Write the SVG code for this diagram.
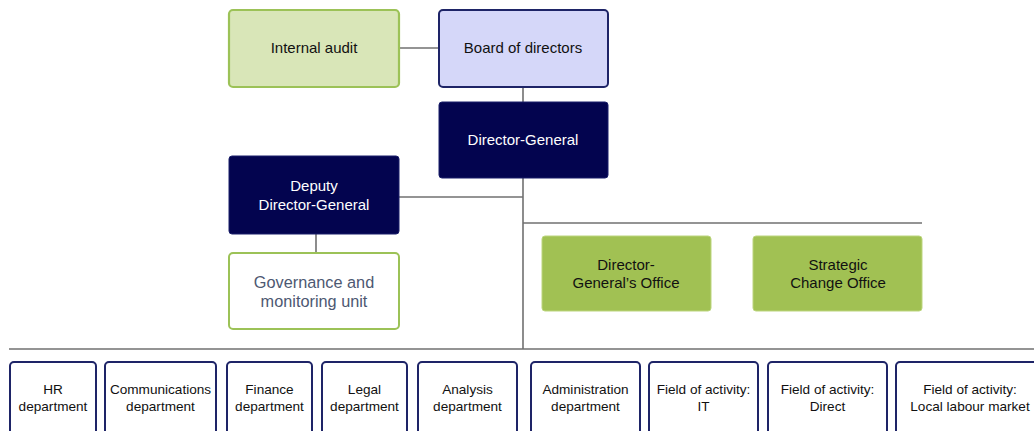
<svg xmlns="http://www.w3.org/2000/svg" width="1034" height="431" viewBox="0 0 1034 431">
  <style>
    text { font-family: "Liberation Sans", Arial, sans-serif; text-anchor: middle; }
    .t14 { font-size: 15px; fill: #111; }
    .t13 { font-size: 13.6px; fill: #111; }
    .w { fill: #ffffff; }
    .gov { font-size: 16.3px; fill: #4d5872; }
    .conn { stroke: #707070; stroke-width: 1.6; fill: none; }
    .navy { fill: #03044f; stroke: #1a1f6a; stroke-width: 1; }
    .board { fill: #d5d7f9; stroke: #1e2467; stroke-width: 2; }
    .audit { fill: #d9e6b8; stroke: #9cc257; stroke-width: 2.2; }
    .white { fill: #ffffff; stroke: #9cc257; stroke-width: 2; }
    .green { fill: #a1c153; stroke: #bcd57f; stroke-width: 1; }
    .dept { fill: #ffffff; stroke: #1e2467; stroke-width: 2; }
  </style>

  <!-- connectors -->
  <g id="connectors">
    <line class="conn" x1="399" y1="48" x2="439" y2="48"/>
    <line class="conn" x1="523" y1="87" x2="523" y2="102"/>
    <line class="conn" x1="523" y1="178" x2="523" y2="349"/>
    <line class="conn" x1="399" y1="197" x2="523" y2="197"/>
    <line class="conn" x1="316" y1="234" x2="316" y2="253"/>
    <line class="conn" x1="523" y1="223" x2="922" y2="223"/>
    <line class="conn" x1="9" y1="349" x2="1034" y2="349"/>
  </g>

  <g id="internal-audit">
    <rect class="audit" x="229" y="10" width="170" height="77" rx="4"/>
    <text class="t14" x="314" y="53">Internal audit</text>
  </g>

  <g id="board">
    <rect class="board" x="439" y="10" width="169" height="77" rx="4"/>
    <text class="t14" x="523" y="53">Board of directors</text>
  </g>

  <g id="director-general">
    <rect class="navy" x="439" y="102" width="169" height="76" rx="3"/>
    <text class="t14 w" x="523" y="145">Director-General</text>
  </g>

  <g id="deputy">
    <rect class="navy" x="229" y="156" width="170" height="78" rx="3"/>
    <text class="t14 w" x="314" y="191">Deputy</text>
    <text class="t14 w" x="314" y="210">Director-General</text>
  </g>

  <g id="governance">
    <rect class="white" x="229" y="253" width="170" height="76" rx="4"/>
    <text class="gov" x="314" y="288">Governance and</text>
    <text class="gov" x="314" y="307">monitoring unit</text>
  </g>

  <g id="dg-office">
    <rect class="green" x="542" y="236" width="169" height="75" rx="3"/>
    <text class="t14" x="626" y="270">Director-</text>
    <text class="t14" x="626" y="288">General’s Office</text>
  </g>

  <g id="strategic-change">
    <rect class="green" x="753" y="236" width="169" height="75" rx="3"/>
    <text class="t14" x="838" y="270">Strategic</text>
    <text class="t14" x="838" y="288">Change Office</text>
  </g>

  <g id="hr">
    <rect class="dept" x="10" y="362" width="86" height="80" rx="4"/>
    <text class="t13" x="53" y="394">HR</text>
    <text class="t13" x="53" y="411">department</text>
  </g>
  <g id="communications">
    <rect class="dept" x="105" y="362" width="111" height="80" rx="4"/>
    <text class="t13" x="160.5" y="394">Communications</text>
    <text class="t13" x="160.5" y="411">department</text>
  </g>
  <g id="finance">
    <rect class="dept" x="227" y="362" width="85" height="80" rx="4"/>
    <text class="t13" x="269.5" y="394">Finance</text>
    <text class="t13" x="269.5" y="411">department</text>
  </g>
  <g id="legal">
    <rect class="dept" x="322" y="362" width="85" height="80" rx="4"/>
    <text class="t13" x="364.5" y="394">Legal</text>
    <text class="t13" x="364.5" y="411">department</text>
  </g>
  <g id="analysis">
    <rect class="dept" x="418" y="362" width="99" height="80" rx="4"/>
    <text class="t13" x="467.5" y="394">Analysis</text>
    <text class="t13" x="467.5" y="411">department</text>
  </g>
  <g id="administration">
    <rect class="dept" x="531" y="362" width="109" height="80" rx="4"/>
    <text class="t13" x="585.5" y="394">Administration</text>
    <text class="t13" x="585.5" y="411">department</text>
  </g>
  <g id="field-it">
    <rect class="dept" x="649" y="362" width="109" height="80" rx="4"/>
    <text class="t13" x="703.5" y="394">Field of activity:</text>
    <text class="t13" x="703.5" y="411">IT</text>
  </g>
  <g id="field-direct">
    <rect class="dept" x="768" y="362" width="119" height="80" rx="4"/>
    <text class="t13" x="827.5" y="394">Field of activity:</text>
    <text class="t13" x="827.5" y="411">Direct</text>
  </g>
  <g id="field-local">
    <rect class="dept" x="896" y="362" width="150" height="80" rx="4"/>
    <text class="t13" x="970" y="394">Field of activity:</text>
    <text class="t13" x="970" y="411">Local labour market</text>
  </g>
</svg>
